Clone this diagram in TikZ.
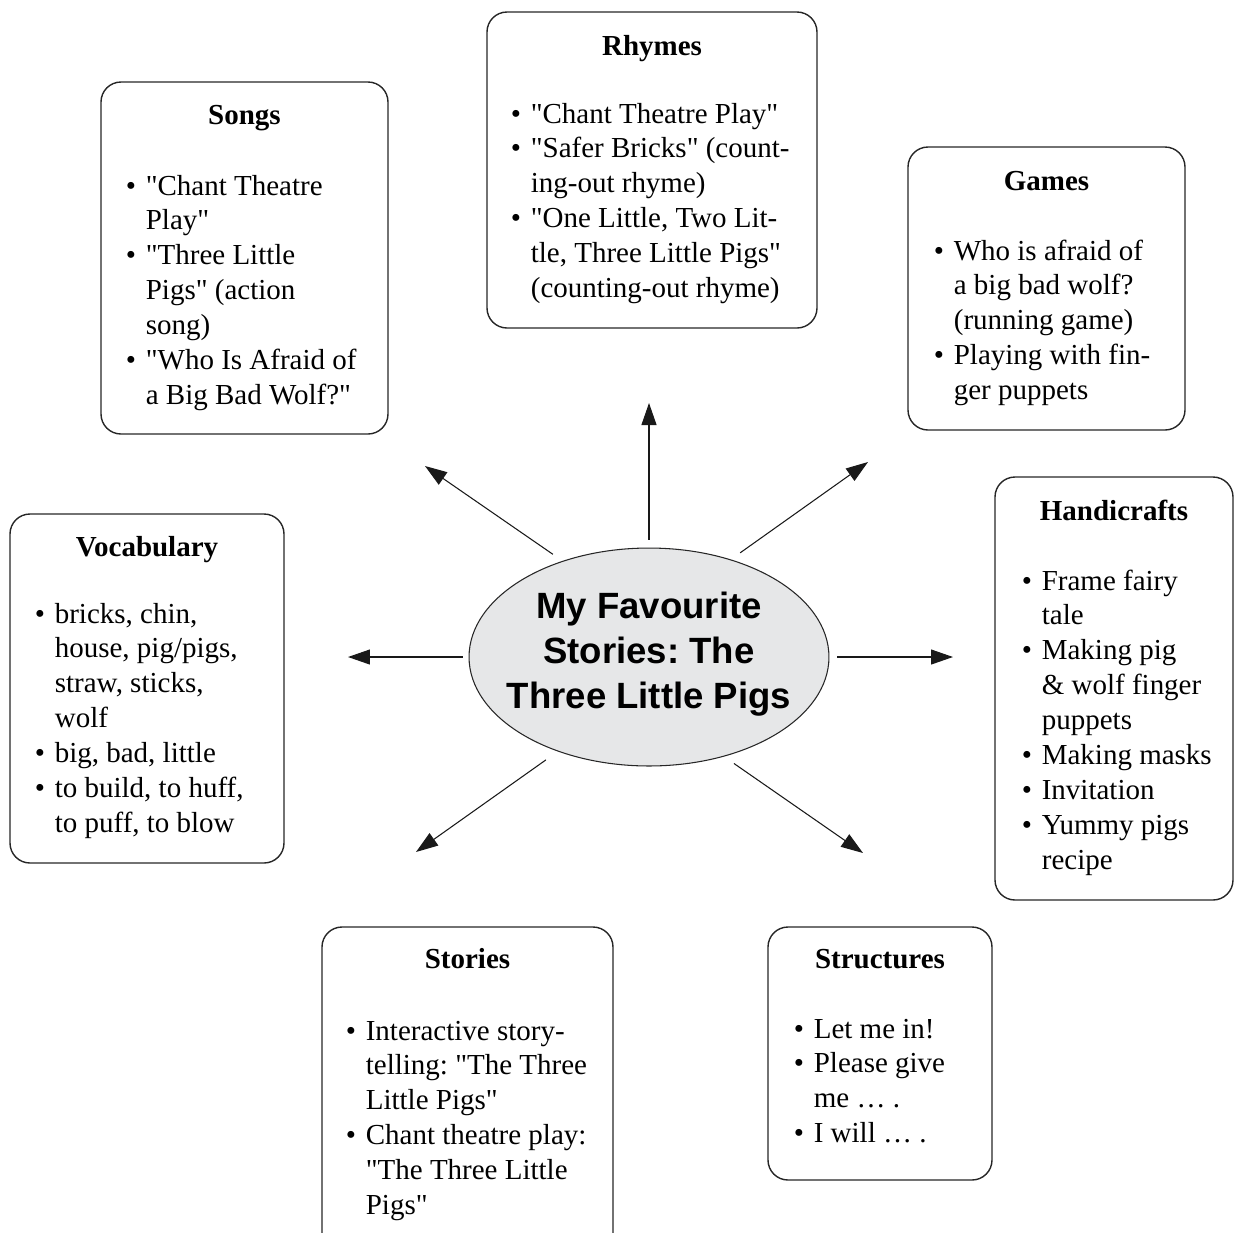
\documentclass[tikz,border=0pt]{standalone}
\usepackage{fontspec}
\setmainfont{Liberation Serif}[Ligatures=TeXOff]
\newfontfamily\titlefont{Liberation Sans}
\usetikzlibrary{arrows.meta,shapes.geometric,fit}
\definecolor{ellfill}{HTML}{E6E7E8}
\newcommand{\bul}{\makebox[0.4cm][l]{\textbullet}}
\frenchspacing
\begin{document}
\begin{tikzpicture}[x=0.02cm,y=-0.02cm,
  box/.style={draw=black!85, line width=0.8pt, rounded corners=0.4cm, inner sep=0pt},
  head/.style={anchor=base, inner sep=0pt, font=\fontsize{16.5pt}{19.9pt}\selectfont\bfseries},
  lst/.style={anchor=base west, inner sep=0pt, font=\fontsize{16.5pt}{19.9pt}\selectfont},
  arr/.style={line width=0.6pt, draw=black!90, -{Triangle[length=0.44cm,width=0.3cm]}},
]
\path[use as bounding box] (0,0) rectangle (1235,1232);
\clip (0,0) rectangle (1235,1232);

% central node
\node[ellipse, draw=black!85, line width=0.6pt, fill=ellfill,
      minimum width=7.2cm, minimum height=4.36cm, inner sep=0pt]
      (title) at (649,657) {};
\node[inner sep=0pt, align=center,
      font=\titlefont\fontsize{20.8pt}{25.5pt}\selectfont\bfseries\frenchspacing]
      (titleT) at (649,654) {My Favourite\\Stories: The\\Three Little Pigs};

% Songs
\node[box, fit={(101,82) (388,434)}] (songs) {};
\node[head] (songsH) at (244.5,124) {Songs};
\node[lst] (songsL) at (125.5,195) {\begin{tabular}[t]{@{}l@{}l@{}}
\bul & "Chant Theatre\\
     & Play"\\
\bul & "Three Little\\
     & Pigs" (action\\
     & song)\\
\bul & "Who Is Afraid of\\
     & a Big Bad Wolf?"
\end{tabular}};

% Rhymes
\node[box, fit={(487,12) (817,328)}] (rhymes) {};
\node[head] (rhymesH) at (652,55) {Rhymes};
\node[lst] (rhymesL) at (510.5,123) {\begin{tabular}[t]{@{}l@{}l@{}}
\bul & "Chant Theatre Play"\\
\bul & "Safer Bricks" (count-\\
     & ing-out rhyme)\\
\bul & "One Little, Two Lit-\\
     & tle, Three Little Pigs"\\
     & (counting-out rhyme)
\end{tabular}};

% Games
\node[box, fit={(908,147) (1185,430)}] (games) {};
\node[head] (gamesH) at (1046.5,190) {Games};
\node[lst] (gamesL) at (933.5,260) {\begin{tabular}[t]{@{}l@{}l@{}}
\bul & Who is afraid of\\
     & a big bad wolf?\\
     & (running game)\\
\bul & Playing with fin-\\
     & ger puppets
\end{tabular}};

% Vocabulary
\node[box, fit={(10,514) (284,863)}] (vocab) {};
\node[head] (vocabH) at (147,556) {Vocabulary};
\node[lst] (vocabL) at (34.5,623) {\begin{tabular}[t]{@{}l@{}l@{}}
\bul & bricks, chin,\\
     & house, pig/pigs,\\
     & straw, sticks,\\
     & wolf\\
\bul & big, bad, little\\
\bul & to build, to huff,\\
     & to puff, to blow
\end{tabular}};

% Handicrafts
\node[box, fit={(995,477) (1233,900)}] (handi) {};
\node[head] (handiH) at (1114,520) {Handicrafts};
\node[lst] (handiL) at (1021.5,590) {\begin{tabular}[t]{@{}l@{}l@{}}
\bul & Frame fairy\\
     & tale\\
\bul & Making pig\\
     & \& wolf finger\\
     & puppets\\
\bul & Making masks\\
\bul & Invitation\\
\bul & Yummy pigs\\
     & recipe
\end{tabular}};

% Stories
\node[box, fit={(322,927) (613,1275)}] (stories) {};
\node[head] (storiesH) at (467.5,968) {Stories};
\node[lst] (storiesL) at (345.5,1040) {\begin{tabular}[t]{@{}l@{}l@{}}
\bul & Interactive story-\\
     & telling: "The Three\\
     & Little Pigs"\\
\bul & Chant theatre play:\\
     & "The Three Little\\
     & Pigs"
\end{tabular}};

% Structures
\node[box, fit={(768,927) (992,1180)}] (struct) {};
\node[head] (structH) at (880,968) {Structures};
\node[lst] (structL) at (793.5,1038) {\begin{tabular}[t]{@{}l@{}l@{}}
\bul & Let me in!\\
\bul & Please give\\
     & me … .\\
\bul & I will … .
\end{tabular}};

% arrow tips (free ends)
\coordinate (tU)  at (649,403);
\coordinate (tUL) at (425,466);
\coordinate (tUR) at (868,462);
\coordinate (tL)  at (348,657);
\coordinate (tR)  at (953,657);
\coordinate (tLL) at (416,852);
\coordinate (tLR) at (863,853);

\draw[arr, shorten <=0.16cm]  (title.90.8)   -- (tU);
\draw[arr, shorten <=0.232cm] (title.132.6)  -- (tUL);
\draw[arr, shorten <=0.228cm] (title.50.35)  -- (tUR);
\draw[arr, shorten <=0.12cm]  (title.180)    -- (tL);
\draw[arr, shorten <=0.16cm]  (title.0)      -- (tR);
\draw[arr, shorten <=0.29cm]  (title.226.75) -- (tLL);
\draw[arr, shorten <=0.242cm] (title.307.16) -- (tLR);
\end{tikzpicture}
\end{document}
